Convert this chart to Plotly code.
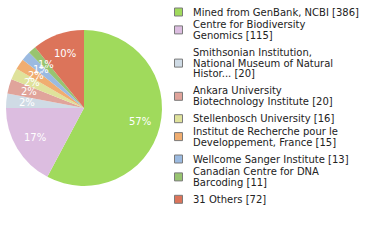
import math
import plotly.graph_objects as go

labels = [
    "Mined from GenBank, NCBI [386]",
    "Centre for Biodiversity<br>Genomics [115]",
    "Smithsonian Institution,<br>National Museum of Natural<br>Histor... [20]",
    "Ankara University<br>Biotechnology Institute [20]",
    "Stellenbosch University [16]",
    "Institut de Recherche pour le<br>Developpement, France [15]",
    "Wellcome Sanger Institute [13]",
    "Canadian Centre for DNA<br>Barcoding [11]",
    "31 Others [72]",
]
counts = [386, 115, 20, 20, 16, 15, 13, 11, 72]
colors = ["#a0da5c", "#dcbde0", "#cfdbe5", "#e0a49b", "#dfe29b",
          "#f0ad70", "#9bbae0", "#98c470", "#dc745a"]

W, H = 380, 240
total = sum(counts)
pct_text = [f"{int(c * 100 // total)}%" for c in counts]

# pie geometry (pixels)
px_l, px_r, py_t, py_b = 5, 163, 30, 186
cx, cy = (px_l + px_r) / 2, (py_t + py_b) / 2
rad = min(px_r - px_l, py_b - py_t) / 2

fig = go.Figure(go.Pie(
    labels=[l.replace("<br>", " ") for l in labels],
    values=counts,
    textinfo="none",
    marker=dict(colors=colors, line=dict(width=0)),
    sort=False,
    direction="clockwise",
    rotation=0,
    hoverinfo="none",
    showlegend=False,
    domain=dict(x=[px_l / W, px_r / W], y=[1 - py_b / H, 1 - py_t / H]),
))

annotations = []
# percentage labels at 0.74 r along each slice's mid angle
cum = 0
for c, t in zip(counts, pct_text):
    mid = (cum + c / 2) / total * 2 * math.pi
    cum += c
    x = cx + 0.74 * rad * math.sin(mid)
    y = cy - 0.74 * rad * math.cos(mid)
    annotations.append(dict(
        x=x / W, y=1 - y / H, xref="paper", yref="paper",
        text=t, showarrow=False, xanchor="center", yanchor="middle",
        font=dict(family="DejaVu Sans", size=10, color="white"),
    ))

# custom legend
shapes = []
line_sp = 10.8
y_line = 12.0
sq = 8
for lab, col in zip(labels, colors):
    lines = lab.split("<br>")
    ys = []
    for ln in lines:
        ys.append(y_line)
        annotations.append(dict(
            x=191 / W, y=1 - y_line / H, xref="paper", yref="paper",
            text=ln, showarrow=False, xanchor="left", yanchor="middle",
            font=dict(family="DejaVu Sans", size=10, color="#222222"),
        ))
        y_line += line_sp
    y_line -= line_sp
    yc = (ys[0] + ys[-1]) / 2
    shapes.append(dict(
        type="rect", xref="paper", yref="paper",
        x0=174.5 / W, x1=(174.5 + sq) / W,
        y0=1 - (yc - sq / 2) / H, y1=1 - (yc + sq / 2) / H,
        fillcolor=col, line=dict(color="#7a7a7a", width=1),
    ))
    y_line += 12.5 if len(lines) == 1 else 17.0

fig.update_layout(
    width=W, height=H,
    margin=dict(l=0, r=0, t=0, b=0),
    paper_bgcolor="white",
    annotations=annotations,
    shapes=shapes,
    showlegend=False,
)

fig.write_html("out.html")
